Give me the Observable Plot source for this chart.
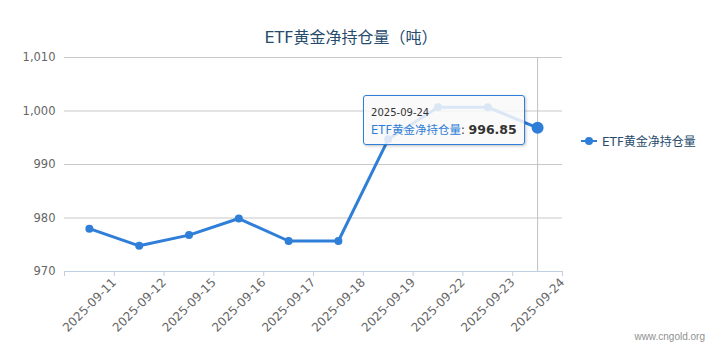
<!DOCTYPE html>
<html><head><meta charset="utf-8">
<script src="https://cdn.jsdelivr.net/npm/d3@7"></script>
<script src="https://cdn.jsdelivr.net/npm/@observablehq/plot@0.6"></script>
<style>
body{margin:0;background:#fff;font-family:"DejaVu Sans","Noto Sans CJK SC",sans-serif;}
#wrap{position:relative;width:728px;height:351px;overflow:hidden;}
#title{position:absolute;left:6px;width:690px;top:24px;text-align:center;font-size:16px;color:#274b6d;font-family:"DejaVu Sans","Noto Sans CJK SC",sans-serif;}
#legend{position:absolute;left:580px;top:132px;font-size:12px;color:#274b6d;display:flex;align-items:center;white-space:nowrap;}
#legend svg{margin-right:4px}
#wm{position:absolute;right:23px;top:331px;font-size:10px;color:#909090;font-family:"Liberation Sans",Arial,sans-serif;}
#tip{position:absolute;background:rgba(249,249,249,0.85);border:1px solid #2f7ed8;border-radius:3px;box-shadow:1px 1px 3px rgba(0,0,0,0.25);padding:10px 7px 4px 7px;box-sizing:border-box;white-space:nowrap;}
#tip .d{font-size:10px;color:#333;line-height:13px}
#tip .n{font-size:11.5px;color:#2f7ed8;line-height:19px}
#tip .v{font-size:12.5px;color:#333;font-weight:bold}
</style></head>
<body>
<div id="wrap">
  <div id="title">ETF黄金净持仓量（吨）</div>
  <div id="legend"><svg width="18" height="10"><line x1="1" x2="17" y1="5" y2="5" stroke="#2f7ed8" stroke-width="2"/><circle cx="9" cy="5" r="4" fill="#2f7ed8"/></svg><span>ETF黄金净持仓量</span></div>
  <div id="wm">www.cngold.org</div>
</div>
<script>
const dates = ["2025-09-11","2025-09-12","2025-09-15","2025-09-16","2025-09-17","2025-09-18","2025-09-19","2025-09-22","2025-09-23","2025-09-24"];
const values = [978.0, 974.8, 976.8, 979.9, 975.7, 975.7, 994.7, 1000.7, 1000.7, 996.85];
const yTicks = [970, 980, 990, 1000, 1010];
const seriesName = "ETF黄金净持仓量";
const hoverIndex = 9;

const data = dates.map((d, i) => ({i, date: d, value: values[i]}));
const edges = d3.range(-0.5, dates.length, 1);
const blue = "#2f7ed8";

const plot = Plot.plot({
  width: 728, height: 351,
  marginLeft: 64, marginRight: 166, marginTop: 57, marginBottom: 80,
  style: {fontFamily: "DejaVu Sans, sans-serif", background: "#fff", color: "#666"},
  x: {type: "linear", domain: [-0.5, dates.length - 0.5]},
  y: {domain: [970, 1010]},
  marks: [
    Plot.ruleY(yTicks.filter(v => v > 970), {stroke: "#c8c8c8", strokeWidth: 1}),
    Plot.ruleY([970], {stroke: "#c0d0e0", strokeWidth: 1}),
    Plot.ruleX([hoverIndex], {stroke: "#c0c0c0", strokeWidth: 1}),
    Plot.axisY({ticks: yTicks, tickFormat: d3.format(","), tickSize: 0, tickPadding: 9, fontSize: 11.5, fill: "#666", label: null}),
    Plot.axisX({ticks: edges, tickFormat: t => { const k = Math.round(t - 0.5); return dates[k] ?? ""; },
      tickSize: 5, stroke: "#c0d0e0", tickRotate: -45, tickPadding: 4, fontSize: 12, fill: "#666", label: null}),
    Plot.line(data, {x: "i", y: "value", stroke: blue, strokeWidth: 3}),
    Plot.dot(data.filter(d => d.i !== hoverIndex), {x: "i", y: "value", r: 4, fill: blue}),
    Plot.dot(data.filter(d => d.i === hoverIndex), {x: "i", y: "value", r: 6, fill: blue})
  ]
});
const wrap = document.getElementById("wrap");
plot.style.position = "absolute";
plot.style.left = "0"; plot.style.top = "0";
wrap.insertBefore(plot, wrap.firstChild);

const px = plot.scale("x").apply(hoverIndex);
const py = plot.scale("y").apply(values[hoverIndex]);
const tip = document.createElement("div");
tip.id = "tip";
tip.innerHTML = `<div class="d">${dates[hoverIndex]}</div><div><span class="n">${seriesName}</span><span class="n" style="color:#333">: </span><span class="v">${values[hoverIndex].toFixed(2)}</span></div>`;
wrap.appendChild(tip);
const w = tip.offsetWidth;
tip.style.left = (px - 12 - w) + "px";
tip.style.top = (py - 32) + "px";
</script>
</body></html>
